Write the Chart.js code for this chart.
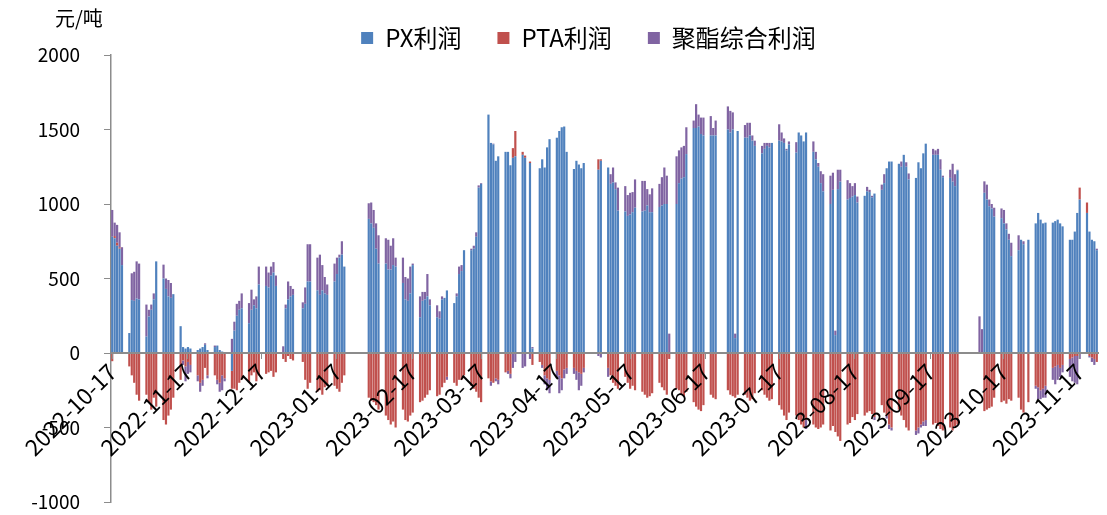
<!DOCTYPE html>
<html>
<head>
<meta charset="utf-8">
<script src="https://cdn.jsdelivr.net/npm/chart.js@4.4.0/dist/chart.umd.min.js"></script>
<style>
  html, body { margin: 0; padding: 0; background: #fff; }
</style>
</head>
<body>
<canvas id="chart" width="1107" height="515"></canvas>
<script>
// ===== DATA =====
// trading days Mon..Fri, one row per week, null = no quote that day
const startDate = '2022-10-17';
const tickLabels = ['2022-10-17', '2022-11-17', '2022-12-17', '2023-01-17', '2023-02-17', '2023-03-17', '2023-04-17',
  '2023-05-17', '2023-06-17', '2023-07-17', '2023-08-17', '2023-09-17', '2023-10-17', '2023-11-17'];

const pxProfit = [
  780, 770, 720, 700, 590,      // 10-17
  134, 355, 350, 365, 360,      // 10-24
  110, 245, 290, 360, 615,      // 10-31
  500, 430, 380, 370, 395,      // 11-07
  180, 40, 30, 40, 30,          // 11-14
  20, 30, 40, 55, 20,           // 11-21
  40, 50, 20, 10, 0,            // 11-28
  -120, 150, 250, 290, 300,     // 12-05
  200, 290, 320, 300, 460,      // 12-12
  450, 440, 520, 540, 450,      // 12-19
  0, 300, 360, 380, 390,        // 12-26
  null, 300, 330, 480, 480,     // 01-02
  420, 390, 420, 400, 390,      // 01-09
  480, 530, 640, 660, 580,      // 01-16
  null, null, null, null, null, // 01-23
  900, 870, 840, 700, 600,      // 01-30
  600, 560, 560, 590, 580,      // 02-06
  470, 360, 350, 400, 590,      // 02-13
  240, 350, 360, 380, 320,      // 02-20
  240, 230, 360, 370, 420,      // 02-27
  335, 380, 530, 550, 690,      // 03-06
  690, 700, 780, 1110, 1135,    // 03-13
  1600, 1410, 1400, 1290, 1320, // 03-20
  1350, 1350, 1260, 1310, 1320, // 03-27
  1330, 1310, null, 1275, 30,   // 04-03
  1240, 1300, 1245, 1380, 1435, // 04-10
  1445, 1490, 1515, 1520, 1350, // 04-17
  1235, 1290, 1265, 1240, 1275, // 04-24
  null, null, null, 1230, 1290, // 05-01
  1245, 1135, 1145, 1100, 955,  // 05-08
  950, 920, 930, 945, 975,      // 05-15
  950, 955, 990, 945, 945,      // 05-22
  980, 990, 1000, 1000, 0,      // 05-29
  1000, 1140, 1170, 1180, 1335, // 06-05
  1510, 1510, 1520, 1470, 1460, // 06-12
  1460, 1460, 1460, null, null, // 06-19
  1500, 1480, 1500, 100, 1490,  // 06-26
  1445, 1445, 1460, 1425, 1390, // 07-03
  1340, 1370, 1390, 1380, 1410, // 07-10
  1425, 1420, 1410, 1360, 1400, // 07-17
  1345, 1480, 1460, 1420, 1480, // 07-24
  1350, 1300, 1250, 1140, 1085, // 07-31
  1000, 1095, 120, 1100, 1150,  // 08-07
  1030, 1040, 1050, 1060, 1010, // 08-14
  1055, 1085, 1080, 1045, 1070, // 08-21
  1095, 1140, 1240, 1285, 1285, // 08-28
  1270, 1250, 1330, 1250, 1165, // 09-04
  1175, 1280, 1240, 1340, 1405, // 09-11
  1330, 1330, 1330, 1230, 1180, // 09-18
  1175, 1150, 1120, 1225, null, // 09-25
  null, null, null, null, null, // 10-02
  1075, 1030, 985, 970, 915,    // 10-09
  905, 870, 830, 760, 650,      // 10-16
  690, 760, 730, null, 760,     // 10-23
  870, 940, 895, 870, 875,      // 10-30
  875, 885, 895, 870, 850,      // 11-06
  760, 760, 815, 940, 1030,     // 11-13
  940, 815, 760, 750, 690       // 11-20
];

const ptaProfit = [
  -55, 15, 20, 10, 0,
  -90, -150, -200, -280, -320,
  -280, -330, -380, -300, -360,
  -450, -480, -420, -380, -300,
  -180, -50, -90, -60, -80,
  -150, -200, -180, -100, -150,
  -150, -180, -200, -150, -170,
  -120, -240, -250, -200, -180,
  -200, -150, -130, -190, -150,
  -140, -130, -120, -160, -130,
  -40, -60, -20, -40, -50,
  null, -60, -180, -240, -200,
  -260, -250, -280, -230, -220,
  -220, -240, -260, -200, -150,
  null, null, null, null, null,
  -300, -320, -330, -350, -380,
  -420, -450, -480, -460, -500,
  -380, -450, -460, -420, -400,
  -330, -320, -300, -280, -250,
  -290, -280, -230, -200, -160,
  -200, -220, -180, -180, -150,
  -220, -240, -260, -300, -330,
  -170, -190, -200, -170, -180,
  -130, -120, -140, 65, 170,
  20, 15, null, 10, -80,
  -60, -80, -150, -170, -180,
  -120, -150, -170, -110, -100,
  -100, -120, -130, -140, -100,
  null, null, null, 70, 10,
  -100, -150, -200, -220, -240,
  -160, -200, -240, -220, -250,
  -260, -280, -300, -290, -270,
  -200, -230, -250, -280, -40,
  -240, -250, -280, -290, -260,
  -330, -360, -380, -390, -350,
  -280, -300, -310, null, null,
  -250, -280, -290, -300, -280,
  -280, -300, -320, -310, -270,
  -250, -280, -300, -320, -310,
  -350, -380, -420, -450, -400,
  -420, -450, -480, -500, -450,
  -480, -500, -510, -500, -480,
  -520, -490, -530, -560, -590,
  -480, -470, -430, -450, -410,
  -420, -400, -390, -410, -430,
  -350, -400, -420, -480, -500,
  -380, -420, -450, -500, -520,
  -520, -500, -480, -460, -450,
  -480, -470, -490, -510, -520,
  -500, -520, -490, -480, null,
  null, null, null, null, null,
  -390, -380, -370, -360, -300,
  -330, -320, -340, -310, -320,
  -300, -380, -400, null, -330,
  -220, -230, -250, -240, -220,
  -100, -90, -80, -100, -80,
  -40, -30, -20, -20, 80,
  70, -20, -30, -40, -60
];

const polyProfit = [
  180, 90, 120, 100, 120,
  0, 180, 195, 250, 240,
  215, 45, 35, 40, 0,
  93, 70, 110, 100, 0,
  0, -30, -100, -80, -50,
  -40, -60, -40, 10, -20,
  10, -30, -60, -100, -20,
  95, 60, 80, 60, 100,
  135, 135, 40, 80, 120,
  130, 100, 60, 70, 70,
  45, 25, 120, 70, 40,
  null, 40, 110, 250, 250,
  220, 270, 170, 110, 70,
  120, 110, 20, 90, 0,
  null, null, null, null, null,
  105, 140, 120, 170, 190,
  170, 200, 160, 180, 60,
  170, 150, 150, 180, 10,
  140, 60, 50, 150, 40,
  80, 50, 20, 0, -20,
  0, 20, 50, 40, 0,
  10, 20, 30, 15, 5,
  0, -30, 5, -20, -30,
  0, -20, -30, -100, -60,
  -100, -90, null, -40, 10,
  0, -20, -60, -80, -90,
  -50, -120, -80, -60, -40,
  -40, -60, -120, -80, -30,
  null, null, null, -20, -30,
  -60, 65, 100, 45, 155,
  170, 140, 145, 135, 190,
  205, 200, 110, 120, 160,
  155, 190, 245, 190, 130,
  320, 220, 210, 210, 180,
  50, 160, 80, 110, 120,
  130, 50, 100, null, null,
  155, 145, 115, 30, 0,
  85, 100, 85, 35, 35,
  50, 40, 20, 30, 0,
  110, 60, 30, 10, 20,
  70, 0, 0, 0, -60,
  70, 50, 25, 80, 115,
  190, 115, 30, 130, 80,
  130, 100, 70, 80, 40,
  0, 30, 15, 10, -20,
  35, 60, -20, -30, -20,
  0, 35, 0, 30, 40,
  -30, -40, -20, -30, -40,
  40, 30, 40, 70, 10,
  55, 120, 80, 5, null,
  null, null, null, null, null,
  77, 100, 45, 30, 60,
  65, 90, 40, 40, 90,
  100, 0, 20, null, 0,
  -20, -80, -60, -60, -80,
  -80, -120, -100, -60, -50,
  -120, -160, -180, -190, -40,
  0, -10, -30, -40, 10
];

// weekend working days after the National Day holiday
const extraDates = ['2023-10-07', '2023-10-08'];
const extraPoly = [246, 160];

// ===== HELPERS =====
const FONT = '"Noto Sans CJK SC", "Microsoft YaHei", sans-serif';
const DAY = 86400000;
const dayOf = s => Math.round((Date.parse(s) - Date.parse(startDate)) / DAY);
const weekdayOffset = i => Math.floor(i / 5) * 7 + i % 5;

function toPoints(values, extra) {
  const pts = [];
  values.forEach((v, i) => { if (v !== null) pts.push({ x: weekdayOffset(i), y: v }); });
  if (extra) extraDates.forEach((d, i) => pts.push({ x: dayOf(d), y: extra[i] }));
  return pts.sort((a, b) => a.x - b.x);
}

const tickDays = tickLabels.map(dayOf);
const labelByDay = {};
tickLabels.forEach((s, i) => { labelByDay[tickDays[i]] = s; });

const noPadding = s => { s.paddingTop = 0; s.paddingBottom = 0; s.paddingLeft = 0; s.paddingRight = 0; };

// ===== PLUGINS =====
const unitLabel = {
  id: 'unitLabel',
  afterDraw(chart) {
    const ctx = chart.ctx;
    ctx.save();
    ctx.font = '20px ' + FONT;
    ctx.fillStyle = '#000';
    ctx.textBaseline = 'middle';
    ctx.fillText('元/吨', 55, 18);
    ctx.restore();
  }
};

const legendPlace = {
  id: 'legendPlace',
  beforeInit(chart) {
    const fit = chart.legend.fit;
    chart.legend.fit = function () { fit.call(this); this.height = 55; };
  },
  afterLayout(chart) {
    chart.legend.top = -10;
    chart.legend.left = 79;
  }
};

// ===== CHART =====
const barStyle = { borderWidth: 0, barPercentage: 0.9, categoryPercentage: 1 };

new Chart(document.getElementById('chart'), {
  type: 'bar',
  data: {
    datasets: [
      { label: 'PX利润', data: toPoints(pxProfit), backgroundColor: '#4F81BD', ...barStyle },
      { label: 'PTA利润', data: toPoints(ptaProfit), backgroundColor: '#C0504D', ...barStyle },
      { label: '聚酯综合利润', data: toPoints(polyProfit, extraPoly), backgroundColor: '#8064A2', ...barStyle }
    ]
  },
  options: {
    responsive: false,
    animation: false,
    events: [],
    layout: { padding: { top: 0, right: 9, bottom: 13, left: 0 } },
    plugins: {
      legend: {
        position: 'top',
        labels: { boxWidth: 12, boxHeight: 12, padding: 36, color: '#000', font: { size: 24, family: FONT } }
      },
      tooltip: { enabled: false }
    },
    scales: {
      x: {
        type: 'linear',
        stacked: true,
        min: -0.5,
        max: 403.5,
        offset: false,
        position: { y: 0 },
        afterBuildTicks: s => { s.ticks = tickDays.map(v => ({ value: v })); },
        afterFit: noPadding,
        grid: { z: 1, drawOnChartArea: false, drawTicks: true, tickLength: 5, color: '#8c8c8c', offset: false },
        border: { z: 1, color: '#8c8c8c', width: 2 },
        ticks: {
          z: 2, autoSkip: false, minRotation: 45, maxRotation: 45, padding: 0,
          color: '#000', font: { size: 23, family: FONT },
          callback: v => labelByDay[v] || ''
        }
      },
      y: {
        stacked: true,
        min: -1000,
        max: 2000,
        afterFit: s => { s.width = 111; noPadding(s); },
        grid: { drawOnChartArea: false, drawTicks: true, tickLength: 7, color: '#8c8c8c' },
        border: { color: '#8c8c8c', width: 1.5 },
        ticks: { stepSize: 500, padding: 24, color: '#000', font: { size: 19, family: FONT }, callback: v => String(v) }
      }
    }
  },
  plugins: [unitLabel, legendPlace]
});
</script>
</body>
</html>
